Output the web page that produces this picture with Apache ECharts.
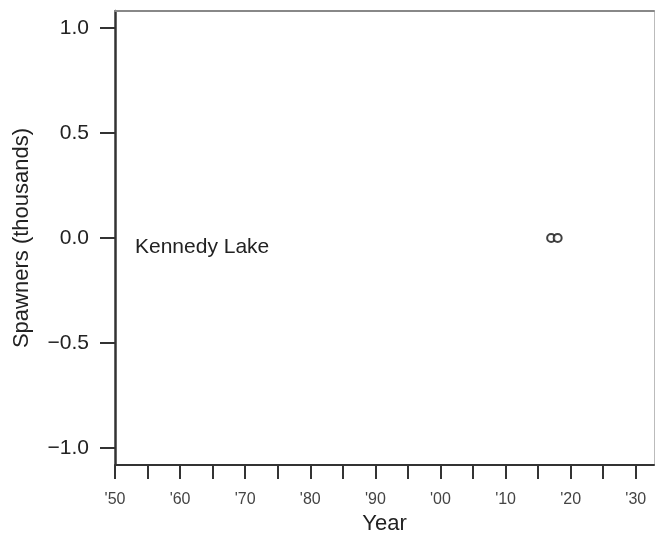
<!DOCTYPE html>
<html><head><meta charset="utf-8">
<script src="https://cdn.jsdelivr.net/npm/echarts@6/dist/echarts.min.js"></script>
<style>html,body{margin:0;padding:0;background:#fff}#c{width:655px;height:540px}</style>
</head><body><div id="c"></div>
<script>
var years = [2017, 2018];
var spawners = [0, 0];
var yTicks = [-1.0, -0.5, 0.0, 0.5, 1.0];
var xTicks = [1950,1955,1960,1965,1970,1975,1980,1985,1990,1995,2000,2005,2010,2015,2020,2025,2030];
var xLabels = [1950,1960,1970,1980,1990,2000,2010,2020,2030];
var siteName = 'Kennedy Lake';

var font = 'Liberation Sans, Arial, sans-serif';
var chart = echarts.init(document.getElementById('c'), null, {renderer:'canvas'});
chart.setOption({
  animation: false,
  grid: {left:115, top:11, right:1, bottom:75, containLabel:false},
  xAxis: [{
    type:'value', min:1950, max:2032.8, position:'bottom',
    name:'Year', nameLocation:'middle', nameGap:47,
    nameTextStyle:{fontFamily:font, fontSize:22, color:'#222'},
    axisLine:{show:true, onZero:false, lineStyle:{color:'#333', width:2}},
    axisTick:{show:true, length:14, customValues:xTicks, lineStyle:{color:'#333', width:2}},
    axisLabel:{show:true, customValues:xLabels, margin:27, fontFamily:font, fontSize:16, color:'#444',
      formatter:function(v){return "'" + String(Math.round(v)).slice(2);}},
    splitLine:{show:false}
  },{
    type:'value', min:1950, max:2032.8, position:'top',
    axisLine:{show:true, onZero:false, lineStyle:{color:'#888', width:2}},
    axisTick:{show:false}, axisLabel:{show:false}, splitLine:{show:false}
  }],
  yAxis: [{
    type:'value', min:-1.08, max:1.08, position:'left',
    name:'Spawners (thousands)', nameLocation:'middle', nameGap:82, nameRotate:90,
    nameTextStyle:{fontFamily:font, fontSize:22, color:'#222'},
    axisLine:{show:true, onZero:false, lineStyle:{color:'#333', width:2.5}},
    axisTick:{show:true, length:15, customValues:yTicks, lineStyle:{color:'#333', width:2}},
    axisLabel:{show:true, customValues:yTicks, margin:26, fontFamily:font, fontSize:21, color:'#222',
      formatter:function(v){return (v<0?'\u2212':'') + Math.abs(v).toFixed(1);}},
    splitLine:{show:false}
  },{
    type:'value', min:-1.08, max:1.08, position:'right',
    axisLine:{show:true, onZero:false, lineStyle:{color:'#bbb', width:1}},
    axisTick:{show:false}, axisLabel:{show:false}, splitLine:{show:false}
  }],
  series: [{
    type:'scatter', xAxisIndex:0, yAxisIndex:0,
    data: years.map(function(y,i){return [y, spawners[i]];}),
    symbol:'emptyCircle', symbolSize:8,
    itemStyle:{color:'#111', borderColor:'#111', borderWidth:2}
  }],
  graphic: [{
    type:'text', left:135, top:237,
    style:{text:siteName, fontFamily:font, fontSize:21, fill:'#222'}
  }]
});
</script></body></html>
